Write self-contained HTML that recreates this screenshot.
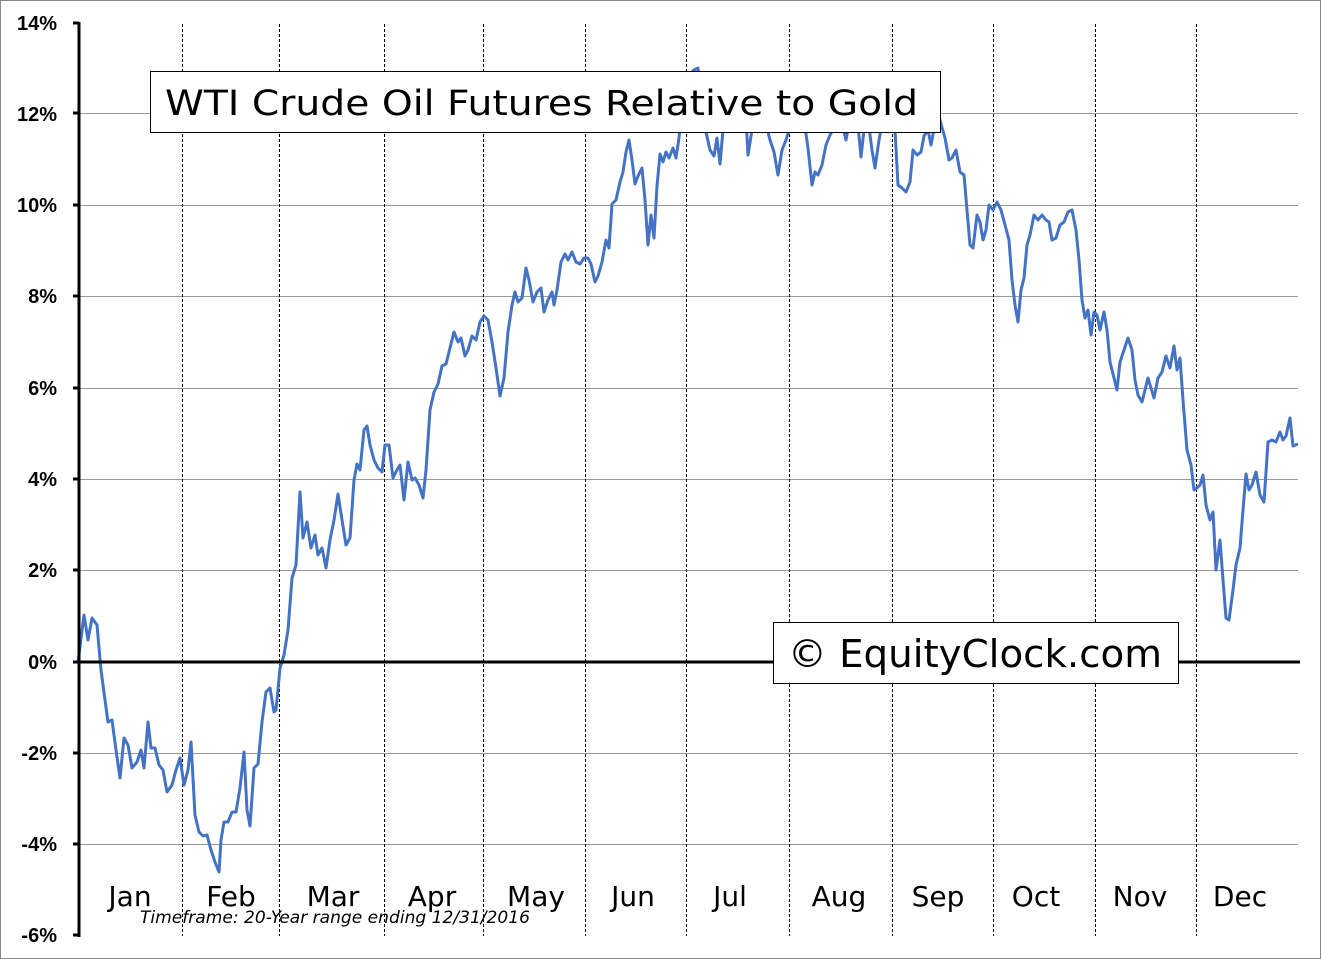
<!DOCTYPE html>
<html><head><meta charset="utf-8"><style>
html,body{margin:0;padding:0;background:#fff}
svg{display:block}
</style></head><body>
<svg width="1321" height="959" xmlns="http://www.w3.org/2000/svg" font-family="Liberation Sans, Arial, sans-serif">
<rect x="0.5" y="0.5" width="1320" height="958" fill="#fff" stroke="#888"/>
<g stroke="#999" stroke-width="1">
<line x1="79" y1="113.5" x2="1298" y2="113.5"/>
<line x1="79" y1="205.5" x2="1298" y2="205.5"/>
<line x1="79" y1="296.5" x2="1298" y2="296.5"/>
<line x1="79" y1="388.5" x2="1298" y2="388.5"/>
<line x1="79" y1="479.5" x2="1298" y2="479.5"/>
<line x1="79" y1="570.5" x2="1298" y2="570.5"/>
<line x1="79" y1="753.5" x2="1298" y2="753.5"/>
<line x1="79" y1="844.5" x2="1298" y2="844.5"/>
</g>
<g stroke="#000" stroke-width="1" stroke-dasharray="3,2">
<line x1="182.5" y1="24" x2="182.5" y2="936"/>
<line x1="279.5" y1="24" x2="279.5" y2="936"/>
<line x1="384.5" y1="24" x2="384.5" y2="936"/>
<line x1="483.5" y1="24" x2="483.5" y2="936"/>
<line x1="585.5" y1="24" x2="585.5" y2="936"/>
<line x1="686.5" y1="24" x2="686.5" y2="936"/>
<line x1="789.5" y1="24" x2="789.5" y2="936"/>
<line x1="892.5" y1="24" x2="892.5" y2="936"/>
<line x1="993.5" y1="24" x2="993.5" y2="936"/>
<line x1="1095.5" y1="24" x2="1095.5" y2="936"/>
<line x1="1196.5" y1="24" x2="1196.5" y2="936"/>
</g>
<polyline fill="none" stroke="#4472C4" stroke-width="3" stroke-linejoin="round" points="78,662 84,615 88,640 92,618 97,625 101,670 105,700 108,722 112,720 116,750 120,778 124,738 128,745 132,768 137,762 141,750 144,768 148,722 151,748 155,748 159,765 163,770 167,792 172,785 176,770 180,758 184,785 188,770 191,742 195,815 199,832 203,836 207,835 211,850 215,862 219,872 221,840 224,822 228,822 232,812 236,812 240,788 244,752 247,810 250,826 254,768 258,764 262,722 266,692 270,688 274,712 276,710 280,668 284,655 288,630 292,578 296,565 300,492 303,538 307,522 311,548 315,535 318,555 322,548 326,568 330,540 334,520 338,494 342,520 346,545 350,538 354,480 357,464 360,470 364,430 367,426 370,445 374,460 378,468 382,472 385,445 389,445 393,478 397,470 400,465 404,500 408,462 412,480 415,478 419,485 423,498 426,470 430,410 434,392 438,384 442,366 446,364 450,348 454,332 458,342 461,338 465,356 468,350 472,336 476,340 480,322 484,316 488,320 492,342 496,368 500,396 504,378 508,332 512,305 515,292 518,302 522,298 526,268 529,280 533,302 537,292 541,288 544,312 548,300 552,292 554,305 557,290 561,262 565,254 568,260 572,252 576,262 580,264 584,258 588,258 591,264 595,282 598,276 602,262 606,240 609,248 612,204 616,200 620,182 623,172 626,152 629,140 632,160 635,184 638,176 642,168 645,200 648,245 651,215 654,238 657,186 660,154 663,162 666,152 669,158 673,148 676,158 679,138 682,108 686,80 690,74 694,70 698,68 702,130 706,132 710,150 714,156 717,138 720,164 723,130 727,118 730,110 735,112 740,120 745,100 748,155 752,130 756,110 760,125 765,120 770,140 774,152 778,175 782,150 786,140 789,130 793,120 797,105 800,110 804,120 808,148 812,185 815,172 818,175 822,165 826,145 830,135 834,128 838,118 842,124 846,140 850,118 854,112 858,125 861,157 864,130 868,120 872,150 875,168 879,140 883,118 887,100 891,115 895,130 898,185 902,188 906,192 910,182 913,150 917,155 921,152 924,136 928,130 931,145 935,124 938,112 941,124 945,138 949,160 952,158 956,150 960,172 964,175 967,210 970,245 973,248 977,215 980,222 983,240 986,230 989,205 993,210 997,202 1001,210 1005,225 1009,240 1012,280 1015,305 1018,322 1021,290 1024,278 1027,245 1030,235 1034,215 1038,220 1042,215 1046,220 1049,222 1052,240 1056,238 1060,225 1064,222 1068,212 1072,210 1076,230 1079,260 1082,300 1085,318 1088,310 1091,335 1094,312 1097,315 1100,330 1104,312 1107,330 1110,362 1114,378 1117,390 1120,362 1124,350 1128,338 1132,350 1135,380 1138,395 1142,402 1145,390 1148,378 1151,388 1154,398 1158,378 1162,372 1166,356 1170,368 1174,346 1177,370 1180,358 1183,400 1187,450 1191,465 1194,490 1197,488 1200,485 1203,475 1206,505 1210,520 1213,512 1216,570 1220,540 1223,580 1226,618 1229,620 1233,590 1236,565 1240,548 1243,510 1246,474 1249,490 1252,485 1256,472 1260,495 1264,502 1268,442 1272,440 1276,442 1280,432 1283,440 1286,436 1290,418 1293,446 1298,444"/>
<line x1="78" y1="662" x2="1300" y2="662" stroke="#000" stroke-width="3"/>
<line x1="79" y1="22" x2="79" y2="937" stroke="#000" stroke-width="3"/>
<g stroke="#000" stroke-width="3">
<line x1="73" y1="23" x2="79" y2="23"/><line x1="73" y1="113" x2="79" y2="113"/>
<line x1="73" y1="205" x2="79" y2="205"/><line x1="73" y1="296" x2="79" y2="296"/>
<line x1="73" y1="388" x2="79" y2="388"/><line x1="73" y1="479" x2="79" y2="479"/>
<line x1="73" y1="570" x2="79" y2="570"/><line x1="73" y1="662" x2="79" y2="662"/>
<line x1="73" y1="753" x2="79" y2="753"/><line x1="73" y1="844" x2="79" y2="844"/>
<line x1="73" y1="935" x2="79" y2="935"/>
</g>
<g font-size="20" font-weight="bold" text-anchor="end" fill="#000">
<text x="57" y="30">14%</text><text x="57" y="121">12%</text>
<text x="57" y="212">10%</text><text x="57" y="303">8%</text>
<text x="57" y="395">6%</text><text x="57" y="486">4%</text>
<text x="57" y="577">2%</text><text x="57" y="669">0%</text>
<text x="57" y="760">-2%</text><text x="57" y="851">-4%</text>
<text x="57" y="942">-6%</text>
</g>
<g font-size="28" text-anchor="middle" fill="#000" font-family="DejaVu Sans, sans-serif">
<text x="130" y="906">Jan</text><text x="231" y="906">Feb</text>
<text x="333" y="906">Mar</text><text x="432" y="906">Apr</text>
<text x="536" y="906">May</text><text x="633" y="906">Jun</text>
<text x="730" y="906">Jul</text><text x="839" y="906">Aug</text>
<text x="938" y="906">Sep</text><text x="1036" y="906">Oct</text>
<text x="1140" y="906">Nov</text><text x="1240" y="906">Dec</text>
</g>
<text x="140" y="923" font-size="17" font-style="italic" fill="#000" font-family="DejaVu Sans, sans-serif" textLength="390" lengthAdjust="spacingAndGlyphs">Timeframe: 20-Year range ending 12/31/2016</text>
<rect x="150.5" y="71.5" width="790" height="61" fill="#fff" stroke="#000"/>
<text x="165" y="115" font-size="35" fill="#000" font-family="DejaVu Sans, sans-serif" textLength="753" lengthAdjust="spacingAndGlyphs">WTI Crude Oil Futures Relative to Gold</text>
<rect x="773.5" y="622.5" width="405" height="61" fill="#fff" stroke="#000"/>
<text x="788" y="667" font-size="38" fill="#000" font-family="DejaVu Sans, sans-serif" textLength="374" lengthAdjust="spacingAndGlyphs">© EquityClock.com</text>
</svg>
</body></html>
